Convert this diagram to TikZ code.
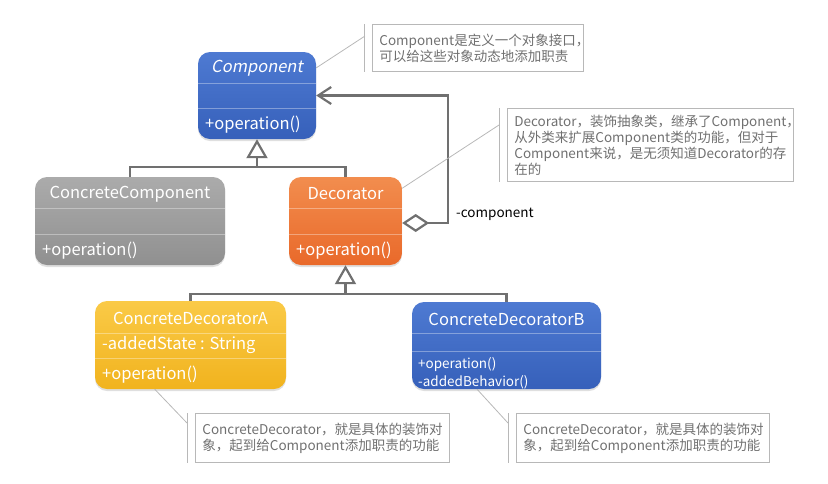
\documentclass[tikz,border=0pt]{standalone}
\usepackage{fontspec}
\setmainfont{Noto Sans CJK SC}[AutoFakeSlant=0.2]
\usepackage{xcolor}
\usetikzlibrary{arrows.meta}
\usetikzlibrary{shadows}
\definecolor{blueA}{HTML}{4E7AD2}
\definecolor{blueB}{HTML}{3660BA}
\definecolor{grayA}{HTML}{ABABAB}
\definecolor{grayB}{HTML}{909090}
\definecolor{orangeA}{HTML}{F28D4E}
\definecolor{orangeB}{HTML}{E9692A}
\definecolor{yellowA}{HTML}{FACA47}
\definecolor{yellowB}{HTML}{F1B31E}
\definecolor{edgegray}{HTML}{707070}
\definecolor{notegray}{HTML}{B8B8B8}
\definecolor{notetext}{HTML}{707070}

\begin{document}
\begin{tikzpicture}[x=1pt,y=-1pt]
      \tikzstyle{class}=[rounded corners=12pt,inner sep=0pt,minimum height=88pt,drop shadow={opacity=0.25,shadow xshift=0pt,shadow yshift=-2pt}]
      \tikzstyle{title}=[text=white,inner sep=0pt,font=\fontsize{16.5}{20}\selectfont]
      \tikzstyle{member}=[text=white,anchor=west,inner sep=0pt,font=\fontsize{16.5}{20}\selectfont]
      \tikzstyle{small}=[member,font=\fontsize{13.5}{16}\selectfont]
      \tikzstyle{divider}=[draw=white,draw opacity=0.35,line width=0.8pt]
      \tikzstyle{edge}=[draw=edgegray,line width=2.2pt]
      \tikzstyle{inherit}=[edge,-{Triangle[open,length=19pt,width=21pt]}]
      \tikzstyle{note}=[draw=notegray,line width=0.8pt,anchor=north west,align=left,text=notetext,inner xsep=7pt,font=\fontsize{13.5}{16}\selectfont]
      \tikzstyle{lead}=[draw=notegray,line width=0.8pt]
      \useasboundingbox (0,0) rectangle (828,483);
      % classes
      \node[class,top color=blueA,bottom color=blueB,minimum width=118pt,minimum height=87pt] (comp) at (257,95.5) {};
      \node[class,top color=grayA,bottom color=grayB,minimum width=190pt] (cc) at (130,221) {};
      \node[class,top color=orangeA,bottom color=orangeB,minimum width=113pt] (dec) at (345.5,221) {};
      \node[class,top color=yellowA,bottom color=yellowB,minimum width=191pt] (cda) at (190.5,345) {};
      \node[class,top color=blueA,bottom color=blueB,minimum width=189pt,minimum height=87pt] (cdb) at (506.5,345.5) {};
      \draw[divider] (comp.west |- 0,83) -- (comp.east |- 0,83);
      \draw[divider] (comp.west |- 0,108) -- (comp.east |- 0,108);
      \draw[divider] (cc.west |- 0,208) -- (cc.east |- 0,208);
      \draw[divider] (cc.west |- 0,234) -- (cc.east |- 0,234);
      \draw[divider] (dec.west |- 0,208) -- (dec.east |- 0,208);
      \draw[divider] (dec.west |- 0,234) -- (dec.east |- 0,234);
      \draw[divider] (cda.west |- 0,333) -- (cda.east |- 0,333);
      \draw[divider] (cda.west |- 0,358) -- (cda.east |- 0,358);
      \draw[divider] (cdb.west |- 0,333) -- (cdb.east |- 0,333);
      \draw[divider] (cdb.west |- 0,351) -- (cdb.east |- 0,351);
      \node[title] (comptitle) at (257,68.5) {\textit{Component}};
      \node[member] (compop) at (205,125) {+operation()};
      \node[title] (cctitle) at (130,194) {ConcreteComponent};
      \node[member] (ccop) at (42,251) {+operation()};
      \node[title] (dectitle) at (345.5,194) {Decorator};
      \node[member] (decop) at (296,251) {+operation()};
      \node[title] (cdatitle) at (190.5,318) {ConcreteDecoratorA};
      \node[member] (cdaattr) at (102,345) {-addedState : String};
      \node[member] (cdaop) at (102,375) {+operation()};
      \node[title] (cdbtitle) at (506.5,319) {ConcreteDecoratorB};
      \node[small] (cdbop) at (418,365) {+operation()};
      \node[small] (cdbbeh) at (418,382) {-addedBehavior()};
      % relations
      \coordinate (up1) at (257,167);
      \coordinate (up2) at (345.5,294);
      \draw[edge] (cc.north) |- (up1) -| (dec.north);
      \draw[inherit] (up1) -- (comp.south);
      \draw[edge] (cda.north) |- (up2) -| (cdb.north);
      \draw[inherit] (up2) -- (dec.south);
      \draw[edge,{Diamond[open,length=27pt,width=18pt]}-{Straight Barb[length=13pt,width=17pt]}] ([yshift=-2pt]dec.east) -- ++(46,0) |- (comp.east);
      \node[anchor=west,inner sep=0pt,font=\fontsize{13.5}{16}\selectfont] (role) at (456,214) {-component};
      % notes
      \node[note,text width=197pt,minimum height=47pt] (note1) at (372,24) {Component是定义一个对象接口，\\可以给这些对象动态地添加职责};
      \node[note,text width=272pt,minimum height=73pt] (note2) at (507,108) {Decorator，装饰抽象类，继承了Component，\\从外类来扩展Component类的功能，但对于\\Component来说，是无须知道Decorator的存\\在的};
      \node[note,text width=240pt,minimum height=49pt] (note3) at (195,413) {ConcreteDecorator，就是具体的装饰对\\象，起到给Component添加职责的功能};
      \node[note,text width=239pt,minimum height=49pt] (note4) at (516,413) {ConcreteDecorator，就是具体的装饰对\\象，起到给Component添加职责的功能};
      \foreach \n in {note1,note2,note3,note4}
        \draw[lead] ([xshift=-8pt]\n.north west) -- ([xshift=-8pt]\n.south west);
      \coordinate (pin1) at (365,36);
      \coordinate (pin2) at (499,125);
      \coordinate (pin3) at (187,423);
      \coordinate (pin4) at (508,423);
      \draw[lead] (comp.25) -- (pin1);
      \draw[lead] (dec.30) -- (pin2);
      \draw[lead] (cda.231) -- (pin3);
      \draw[lead] (cdb.236) -- (pin4);
\end{tikzpicture}
\end{document}
